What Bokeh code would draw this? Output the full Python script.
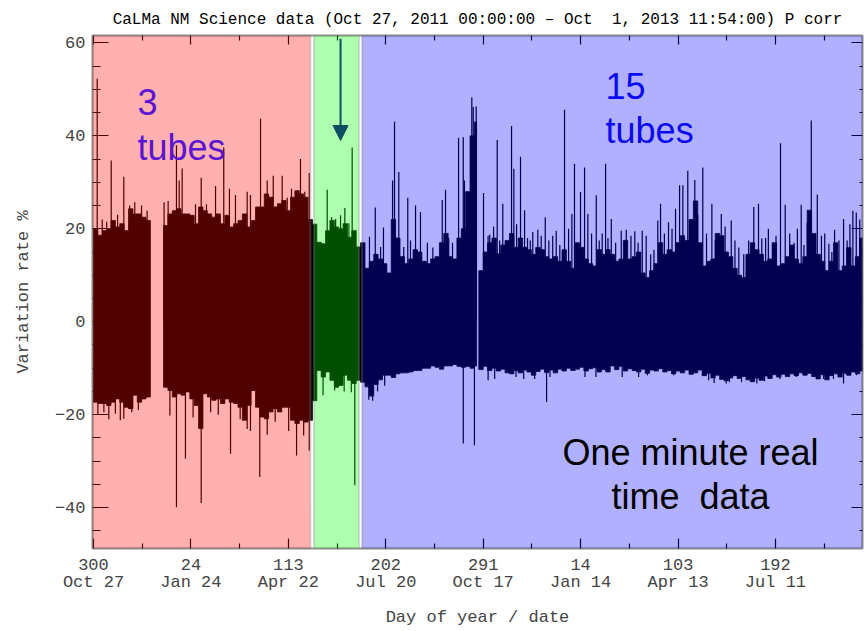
from bokeh.plotting import figure
from bokeh.models import (Range1d, FixedTicker, LinearAxis, BoxAnnotation, Label,
                          Arrow, NormalHead, ColumnDataSource)
from bokeh.embed import file_html
from bokeh.resources import INLINE

# ---------------------------------------------------------------------------
# Time axis: days since Oct 27, 2011 00:00 (day-of-year 300)
# ---------------------------------------------------------------------------
tick_days = [0, 89, 178, 267, 356, 445, 534, 623]
tick_doy = ["300", "24", "113", "202", "291", "14", "103", "192"]
tick_dates = ["Oct 27", "Jan 24", "Apr 22", "Jul 20", "Oct 17", "Jan 14", "Apr 13", "Jul 11"]

y_ticks = [-40, -20, 0, 20, 40, 60]
y_tick_labels = ["\u221240", "\u221220", "0", "20", "40", "60"]

BIN = 4  # days per envelope bin of the one-minute series

# Envelope (max / min of the one-minute rate) per 4-day bin, %
seg1_start, seg1_end = 0, 52
seg1_hi = [20.0, 18.6, 19.6, 20.0, 21.8, 20.4, 21.1, 19.6, 24.3, 23.2, 23.2, 22.5, 21.8]
seg1_lo = [-17.3, -17.6, -17.6, -18.0, -17.3, -16.6, -17.3, -18.4, -18.7, -15.8, -17.3, -16.6, -16.2]

seg2_start, seg2_end = 64, 350
seg2_hi = [20.7, 23.2, 23.9, 24.3, 23.2, 23.2, 22.9, 21.1, 24.7, 23.9, 23.2, 22.5, 23.2, 21.1,
           22.9, 20.4, 21.1, 21.8, 23.2, 20.4, 21.8, 24.7, 24.7, 27.5, 26.8, 24.7, 25.4, 26.1,
           23.9, 26.8, 28.2, 27.5, 26.8, 22.0,
           21.0,
           17.1, 16.8, 19.6, 21.8, 20.4, 20.0, 21.1, 18.2, 19.6, 16.1,
           17.0,
           11.5, 13.0, 14.5, 13.5, 12.5, 10.5, 22.0, 18.0, 14.0, 12.5, 13.5, 15.5, 15.0, 13.0,
           12.5, 13.5, 14.0, 17.0, 19.0, 14.0, 13.5, 18.0, 20.0, 28.0, 40.0, 43.0]
seg2_lo = [-14.1, -14.8, -16.2, -15.5, -15.8, -15.1, -16.6, -18.0, -23.0, -15.5, -16.2, -16.9,
           -16.6, -17.6, -16.6, -17.3, -17.6, -18.4, -21.2, -18.0, -14.8, -18.4, -20.5, -20.9,
           -19.4, -18.7, -19.4, -18.4, -18.4, -21.2, -21.9, -21.2, -21.6, -21.2,
           -17.0,
           -10.5, -11.9, -10.8, -12.6, -14.1, -13.7, -11.5, -12.6, -13.3, -12.6,
           -13.0,
           -14.0, -16.0, -13.5, -12.5, -11.5, -11.5, -12.0, -11.2, -11.0, -11.0, -10.8, -10.5,
           -10.5, -10.0, -10.0, -9.5, -9.8, -10.2, -9.5, -9.5, -9.2, -9.6, -9.8, -9.6, -10.0, -9.5]

seg3_start, seg3_end = 352, 703.5
seg3_hi = [11.0, 15.0, 17.0, 18.0, 14.6, 16.5, 17.5, 19.0, 16.0, 18.0, 16.0, 15.5, 14.5, 16.0,
           15.5, 14.0, 13.5, 14.0, 13.0, 15.5, 13.0, 11.5, 17.0, 16.0, 13.5, 12.5, 12.0, 15.5,
           14.5, 15.5, 14.5, 13.0, 13.5, 17.5, 13.5, 14.0, 15.0, 10.5, 9.5, 11.0, 12.5, 17.0,
           14.5, 15.5, 15.0, 17.0, 18.5, 17.5, 22.0, 26.0, 17.0, 12.0, 13.0, 13.5, 19.0, 18.5,
           15.0, 14.0, 11.5, 10.0, 9.5, 14.5, 17.0, 15.5, 14.5, 13.0, 13.5, 17.0, 12.0, 12.5,
           14.0, 16.5, 13.5, 12.5, 14.0, 24.0, 19.0, 14.5, 13.0, 11.0, 13.0, 17.0, 11.0, 12.0,
           16.0, 12.0, 14.0, 18.0]
seg3_lo = [-10.3, -9.6, -10.5, -10.0, -10.6, -10.2, -11.0, -11.2, -10.5, -11.0, -10.4, -10.8,
           -11.5, -10.7, -10.2, -10.9, -10.4, -11.0, -10.2, -10.6, -10.0, -10.5, -10.2, -9.8,
           -10.6, -10.1, -9.9, -10.8, -10.3, -10.8, -9.5, -10.3, -9.6, -10.6, -10.1, -10.5,
           -10.8, -10.2, -11.1, -10.4, -10.6, -10.1, -10.8, -10.5, -11.2, -10.6, -11.0, -10.4,
           -11.3, -11.0, -10.4, -11.6, -11.1, -12.1, -11.5, -12.4, -12.7, -12.1, -11.6, -12.2,
           -11.8, -12.5, -12.9, -12.1, -12.6, -11.7, -12.2, -11.4, -11.9, -11.3, -11.8, -11.2,
           -11.6, -11.0, -11.5, -11.1, -11.8, -12.3, -11.4, -12.5, -11.6, -11.2, -11.9, -11.1,
           -11.5, -10.8, -11.2, -10.6]

# Isolated one-minute excursions (day, %)
spike_up_day = [3.4, 8.0, 12.0, 16.2, 22.0, 27.7, 33.0, 37.7, 43.9, 49.0,
                64.5, 68.2, 75.8, 78.3, 81.0, 93.2, 98.4, 103.2, 111.5, 119.0, 124.2, 129.7,
                140.4, 143.4, 152.6, 158.7, 164.2, 172.4, 177.0, 180.9, 189.1, 193.0, 197.1,
                213.5, 217.5, 221.2, 225.7, 229.6, 233.3, 236.3,
                252.1, 257.4, 262.3, 264.9, 273.2, 275.0, 278.9, 283.4, 287.1, 289.6, 294.2,
                298.7, 305.0, 310.0, 318.6, 321.6, 324.5, 328.0, 333.5, 337.8, 338.9, 345.6,
                346.9, 349.6,
                356.3, 360.5, 362.0, 365.5, 368.8, 371.0, 373.9, 377.0, 381.9, 384.0, 386.5,
                390.1, 393.8, 396.5, 399.0, 401.3, 405.9, 409.0, 412.7, 416.0, 419.5, 422.7,
                426.0, 430.3, 434.0, 437.0, 439.4, 444.9, 448.6, 451.6, 455.0, 459.3, 462.0,
                464.7, 467.8, 470.0, 473.0, 477.0, 482.1, 486.7, 491.0, 494.5, 497.5, 501.3,
                504.9, 509.0, 512.0, 515.5, 518.0, 521.5, 525.3, 528.5, 531.7, 535.4, 538.4,
                542.9, 545.5, 549.3, 552.0, 556.6, 560.0, 564.9, 568.0, 573.5, 577.0, 582.6,
                586.0, 589.5, 594.0, 598.5, 603.2, 607.5, 610.5, 614.0, 616.5, 620.6, 623.5,
                627.6, 631.9, 636.0, 640.0, 643.0, 646.5, 649.0, 652.0, 655.7, 661.2, 665.0,
                668.0, 671.8, 674.5, 677.0, 681.0, 685.2, 688.5, 691.0, 693.7, 696.8, 700.0]
spike_up_val = [52.3, 22.0, 21.5, 34.7, 23.0, 31.2, 25.0, 25.7, 25.0, 23.9,
                25.7, 26.0, 38.0, 30.4, 33.0, 25.3, 31.0, 25.3, 29.2, 37.5, 28.6, 27.3,
                28.0, 27.3, 43.7, 30.4, 31.4, 31.4, 26.7, 28.6, 35.0, 28.0, 32.0,
                28.4, 22.5, 22.1, 22.9, 24.5, 21.2, 37.5,
                18.3, 24.6, 16.1, 20.3, 30.4, 43.1, 32.2, 16.1, 26.7, 17.5, 25.0,
                23.6, 17.0, 16.0, 26.2, 28.4, 18.0, 17.0, 39.6, 39.7, 30.4, 48.3,
                46.2, 46.3,
                27.7, 18.5, 18.8, 20.5, 39.1, 17.5, 25.4, 16.1, 42.1, 32.9, 21.0,
                35.5, 24.0, 18.0, 17.5, 19.3, 19.8, 18.5, 22.5, 17.5, 18.5, 19.6,
                16.5, 45.6, 20.0, 23.2, 34.0, 27.9, 33.2, 23.2, 19.0, 27.2, 17.5,
                19.0, 34.0, 18.0, 22.1, 17.0, 19.6, 19.8, 18.5, 19.5, 17.0, 19.6,
                18.5, 14.5, 15.5, 21.8, 25.4, 19.0, 21.4, 20.0, 24.3, 29.4, 29.4,
                32.5, 21.0, 30.5, 23.0, 33.2, 19.0, 25.4, 17.5, 23.2, 20.5, 21.8,
                17.5, 16.0, 14.5, 17.5, 24.7, 25.4, 17.9, 18.0, 20.0, 16.4, 18.5,
                38.4, 25.2, 19.0, 17.0, 20.0, 25.2, 16.5, 21.4, 43.3, 27.4, 18.5,
                19.0, 16.8, 15.0, 19.8, 17.5, 22.1, 17.5, 21.0, 23.9, 23.5, 22.0]

spike_dn_day = [4.0, 9.5, 14.0, 20.0, 24.5, 27.7, 35.0, 41.0,
                69.8, 75.8, 84.0, 91.0, 98.4, 107.0, 114.0, 125.2, 134.0, 140.4, 143.4,
                151.9, 158.7, 166.0, 178.3, 185.5, 192.0, 197.1,
                209.7, 220.3, 229.0, 235.5, 238.7,
                251.5, 255.0, 259.5, 266.0, 337.8, 348.0,
                360.5, 366.5, 386.0, 393.0, 403.0, 413.9, 417.0, 449.0, 459.0, 483.0, 498.0,
                506.0, 530.0, 562.0, 567.0, 578.0, 581.0, 592.0, 606.0, 613.0, 627.0, 642.0,
                658.0, 667.0, 676.0, 685.2, 697.0]
spike_dn_val = [-20.0, -19.5, -21.0, -19.8, -21.2, -20.9, -19.5, -19.0,
                -20.2, -39.9, -29.5, -20.6, -39.0, -19.5, -20.0, -28.4, -21.0, -23.1, -23.5,
                -33.4, -24.3, -21.5, -23.5, -28.8, -24.5, -27.7,
                -15.8, -14.8, -15.0, -15.2, -35.2,
                -16.8, -17.0, -15.0, -13.8, -26.2, -26.6,
                -12.6, -12.3, -11.9, -12.3, -12.3, -17.3, -11.9, -11.9, -11.9, -11.9, -11.9,
                -11.5, -11.5, -12.6, -13.2, -13.3, -13.0, -13.0, -13.3, -12.8, -12.3, -11.9,
                -11.9, -12.3, -12.3, -13.3, -11.5]

# Detector configuration periods (days)
red_span = (-0.9, 198.2)      # 3 tubes
green_span = (201.4, 242.6)   # transition
blue_span = (245.3, 702.5)    # 15 tubes

X_START, X_END = -0.9, 702.5
Y_START, Y_END = -48.8, 61.6

MONO = "Liberation Mono"
SANS = "Liberation Sans"
NBSP = "\u00a0"


def envelope_outline(start, end, hi, lo):
    """Step outline (upper edge left->right, lower edge right->left) of one segment."""
    left = [start + BIN * i for i in range(len(hi))]
    right = [min(l + BIN, end) for l in left]
    xs, ys = [], []
    for l, r, h in zip(left, right, hi):
        xs += [l, r]
        ys += [h, h]
    for l, r, b in reversed(list(zip(left, right, lo))):
        xs += [r, l]
        ys += [b, b]
    return xs, ys


band_xs, band_ys = [], []
for s, e, hi, lo in [(seg1_start, seg1_end, seg1_hi, seg1_lo),
                     (seg2_start, seg2_end, seg2_hi, seg2_lo),
                     (seg3_start, seg3_end, seg3_hi, seg3_lo)]:
    xs, ys = envelope_outline(s, e, hi, lo)
    band_xs.append(xs)
    band_ys.append(ys)

band = ColumnDataSource(dict(xs=band_xs, ys=band_ys))
ups = ColumnDataSource(dict(x=spike_up_day, y0=[0] * len(spike_up_day), y1=spike_up_val))
dns = ColumnDataSource(dict(x=spike_dn_day, y0=[0] * len(spike_dn_day), y1=spike_dn_val))

p = figure(width=864, height=631, output_backend="svg", toolbar_location=None,
           x_range=Range1d(X_START, X_END), y_range=Range1d(Y_START, Y_END),
           min_border_left=92, min_border_right=2, min_border_top=35, min_border_bottom=83,
           x_axis_label="Day of year / date", y_axis_label="Variation rate %")

p.title.text = ("CaLMa NM Science data (Oct 27, 2011 00:00:00 \u2013 "
                "Oct" + NBSP + " 1, 2013 11:54:00) P corr")
p.title.align = "center"
p.title.text_font = MONO
p.title.text_font_size = "16px"
p.title.text_font_style = "normal"
p.title.text_color = "black"
p.title.standoff = 14
p.title.offset = 21

p.grid.visible = False
p.background_fill_color = "white"
p.border_fill_color = "white"
p.outline_line_color = "#8c8c8c"
p.outline_line_width = 2

# data: envelope band and isolated excursions, drawn in black and tinted by the period boxes
p.patches(xs="xs", ys="ys", source=band, fill_color="black", line_color="black", line_width=0.8)
p.segment(x0="x", y0="y0", x1="x", y1="y1", source=ups, line_color="black", line_width=1.2)
p.segment(x0="x", y0="y0", x1="x", y1="y1", source=dns, line_color="black", line_width=1.2)

x_minor = [d + 44.5 for d in tick_days]
y_minor = [v for v in range(-45, 61, 5) if v % 20 != 0]


def style_axis(ax, major_in, minor_in):
    ax.axis_line_color = None
    ax.major_tick_in = major_in
    ax.major_tick_out = 0
    ax.minor_tick_in = minor_in
    ax.minor_tick_out = 0
    ax.major_tick_line_color = "black"
    ax.minor_tick_line_color = "black"
    ax.major_tick_line_width = 1.2
    ax.minor_tick_line_width = 1.2


xa = p.xaxis[0]
xa.ticker = FixedTicker(ticks=tick_days, minor_ticks=x_minor)
xa.major_label_overrides = {d: f"{a}\n{b}" for d, a, b in zip(tick_days, tick_doy, tick_dates)}
style_axis(xa, 10, 5)
xa.major_label_text_font = MONO
xa.major_label_text_font_size = "17px"
xa.major_label_text_line_height = 0.9
xa.major_label_standoff = 7
xa.axis_label_text_font = MONO
xa.axis_label_text_font_size = "17px"
xa.axis_label_text_font_style = "normal"
xa.axis_label_standoff = 13

ya = p.yaxis[0]
ya.ticker = FixedTicker(ticks=y_ticks, minor_ticks=y_minor)
ya.major_label_overrides = dict(zip(y_ticks, y_tick_labels))
style_axis(ya, 16, 8)
ya.major_label_text_font = MONO
ya.major_label_text_font_size = "17px"
ya.major_label_standoff = 7
ya.axis_label_text_font = MONO
ya.axis_label_text_font_size = "17px"
ya.axis_label_text_font_style = "normal"
ya.axis_label_standoff = 19

# tick marks mirrored on the top and right frame edges (no labels there)
top_ax = LinearAxis(ticker=FixedTicker(ticks=tick_days, minor_ticks=x_minor))
style_axis(top_ax, 9, 5)
top_ax.major_label_overrides = {d: "" for d in tick_days}
top_ax.major_label_text_font_size = "2px"
top_ax.major_label_standoff = 0
p.add_layout(top_ax, "above")

right_ax = LinearAxis(ticker=FixedTicker(ticks=y_ticks, minor_ticks=y_minor))
style_axis(right_ax, 11, 3)
right_ax.major_label_overrides = {v: "" for v in y_ticks}
right_ax.major_label_text_font_size = "2px"
right_ax.major_label_standoff = 0
p.add_layout(right_ax, "right")

# period boxes
for (l, r), col in [(red_span, "#ff0000"), (green_span, "#00ff00"), (blue_span, "#0000ff")]:
    p.add_layout(BoxAnnotation(left=l, right=r, bottom=Y_START, top=Y_END,
                               fill_color=col, fill_alpha=0.31,
                               line_color="#8c8c8c", line_width=2))


# annotations
def note(x, y, text, color, align="left"):
    p.add_layout(Label(x=x, y=y, text=text, text_font=SANS, text_font_size="36px",
                       text_color=color, text_align=align, text_baseline="alphabetic"))


note(40.2, 47.2, "3", "#5a14d2")
note(40.2, 37.5, "tubes", "#5a14d2")
note(467.8, 50.8, "15", "#0a0af0")
note(467.8, 41.1, "tubes", "#0a0af0")
note(545.4, -28.1, "One minute real", "black", "center")
note(545.4, -37.6, "time" + NBSP + " data", "black", "center")

arrow_col = "#0b4f60"
p.add_layout(Arrow(end=NormalHead(size=15, fill_color=arrow_col, line_color=arrow_col),
                   x_start=225.7, y_start=60.9, x_end=225.7, y_end=39.0,
                   line_color=arrow_col, line_width=2))

open("out.html", "w").write(file_html(p, INLINE))
